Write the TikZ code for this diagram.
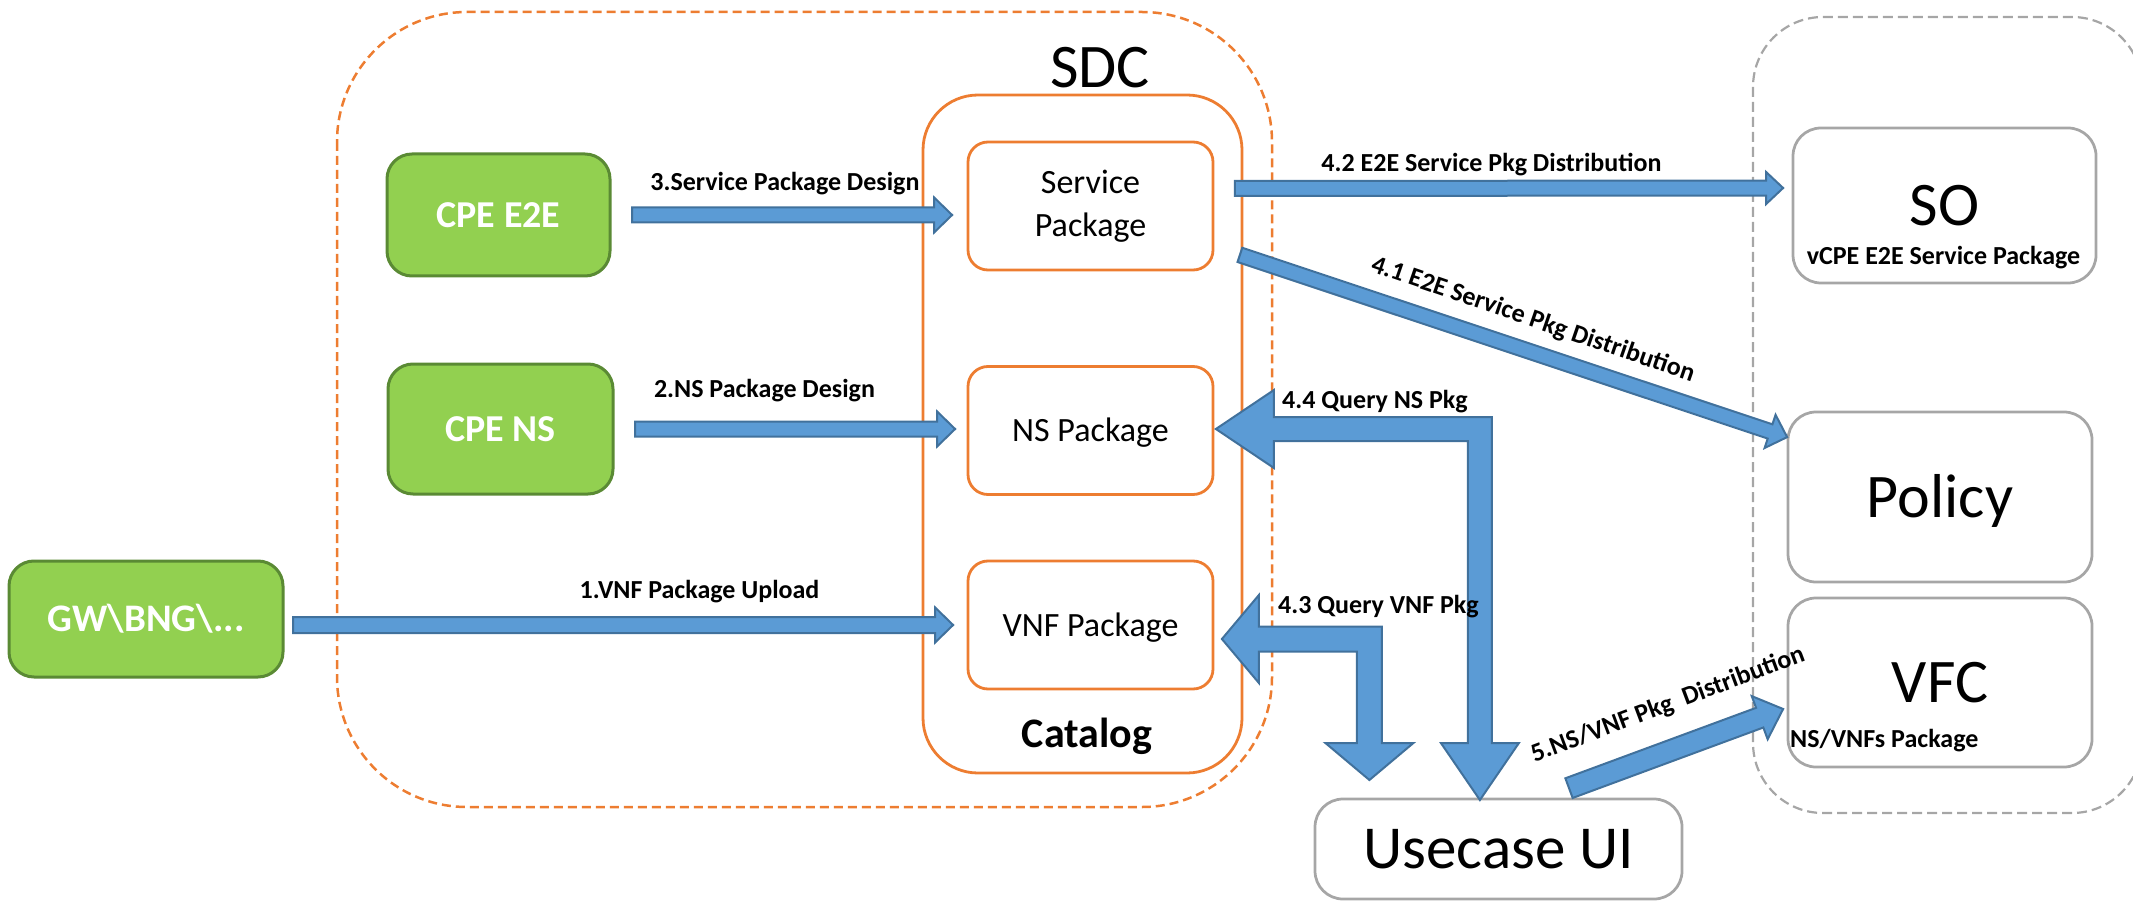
\documentclass[tikz,border=0pt]{standalone}
\usepackage{fontspec}
\setmainfont{Carlito}
\usetikzlibrary{calc}

\definecolor{sdcorange}{HTML}{ED7D31}
\definecolor{leaf}{HTML}{92D050}
\definecolor{leafedge}{HTML}{5A8A34}
\definecolor{flowfill}{HTML}{5B9BD5}
\definecolor{flowedge}{HTML}{41719C}
\definecolor{greyedge}{HTML}{A6A6A6}

\newcommand\fsz[2]{\fontsize{#1}{#2}\selectfont}

% straight block arrow: from, to, shaft half-width, head half-width, head length
\newcommand\blockarrow[5]{%
  \coordinate (ba-s) at (#1);
  \coordinate (ba-e) at (#2);
  \coordinate (ba-b) at ($(ba-e)!#5!(ba-s)$);
  \draw[flow] ($(ba-s)!#3!90:(ba-e)$) -- ($(ba-b)!#3!90:(ba-e)$)
    -- ($(ba-b)!#4!90:(ba-e)$) -- (ba-e) -- ($(ba-b)!#4!-90:(ba-e)$)
    -- ($(ba-b)!#3!-90:(ba-e)$) -- ($(ba-s)!#3!-90:(ba-e)$) -- cycle;
}

\tikzset{
  flow/.style={fill=flowfill, draw=flowedge, line width=2pt, line join=miter},
  onerow/.style={text height=#1, text depth=0pt},
  pkgbox/.style={draw=sdcorange, line width=2.8pt, rounded corners=20pt,
    minimum width=245pt, minimum height=128pt, inner sep=0pt, align=center,
    font=\fsz{34}{43}},
  srcbox/.style={draw=leafedge, fill=leaf, line width=3pt, rounded corners=25pt,
    inner sep=0pt, text=white, font=\bfseries\fsz{38}{44}, onerow=24.5pt},
  sysbox/.style={draw=greyedge, line width=2.75pt, rounded corners=28pt,
    inner sep=0pt, font=\fsz{62}{70}, onerow=40pt},
  steplabel/.style={font=\bfseries\fsz{26}{30}, inner sep=0pt},
  sublabel/.style={font=\bfseries\fsz{26}{30}, inner sep=0pt},
}

\begin{document}
\begin{tikzpicture}[x=1pt,y=-1pt]
\useasboundingbox (0,0) rectangle (2133,901);
\clip (0,0) rectangle (2133,901);

% containers
\draw[sdcorange, line width=2.5pt, dash pattern=on 9pt off 5pt, rounded corners=130pt]
  (337,12) rectangle (1272,807);
\draw[greyedge, line width=2.2pt, dash pattern=on 10pt off 5pt, rounded corners=70pt]
  (1753,17) rectangle (2142,813);

\node[font=\fsz{62}{70}, anchor=base, inner sep=0pt] (sdctitle) at (1100,88) {SDC};

\node[draw=sdcorange, line width=2.8pt, rounded corners=55pt, minimum width=319pt,
  minimum height=678pt, inner sep=0pt] (catalog) at (1082.5,434) {};
\node[font=\bfseries\fsz{42}{48}, anchor=base, inner sep=0pt] (cattitle) at (1087,747) {Catalog};

% catalog entries
\node[pkgbox] (svcpkg) at (1090.5,206) {Service\\Package};
\node[pkgbox, onerow=22pt] (nspkg) at (1090.5,430.5) {NS Package};
\node[pkgbox, onerow=22pt] (vnfpkg) at (1090.5,625) {VNF Package};

% design sources
\node[srcbox, minimum width=223pt, minimum height=122pt] (cpee2e) at (498.5,215) {CPE E2E};
\node[srcbox, minimum width=225pt, minimum height=130pt] (cpens) at (500.5,429) {CPE NS};
\node[srcbox, minimum width=274pt, minimum height=116pt, font=\bfseries\fsz{39}{44}] (gw) at (146,619) {GW\textbackslash BNG\textbackslash ...};

% consumers
\node[sysbox, minimum width=303pt, minimum height=155pt] (so) at (1944.5,205.5) {SO};
\node[sublabel, anchor=base] (sosub) at (1943.5,265) {vCPE E2E Service Package};
\node[sysbox, minimum width=304pt, minimum height=170pt] (policy) at (1940,497) {Policy};
\node[sysbox, minimum width=304pt, minimum height=169pt] (vfc) at (1940,682.5) {VFC};
\node[sublabel, anchor=base west] (vfcsub) at (1790,747) {NS/VNFs Package};
\node[sysbox, minimum width=367pt, minimum height=100pt, font=\fsz{61}{70}, onerow=39pt] (usecase) at (1498.5,849) {Usecase UI};

% design and upload flows
\coordinate (t3) at (cpee2e.east -| svcpkg.west);
\blockarrow{[xshift=20.5pt]cpee2e.east}{[xshift=-14.5pt]t3}{7.5pt}{17.5pt}{18pt}
\coordinate (t2) at (cpens.east -| nspkg.west);
\blockarrow{[xshift=20.5pt]cpens.east}{[xshift=-11.5pt]t2}{7.5pt}{17.5pt}{18pt}
\coordinate (s1) at (vnfpkg.west -| gw.east);
\blockarrow{[xshift=8.5pt]s1}{[xshift=-13.5pt]vnfpkg.west}{8pt}{17.5pt}{18pt}

% distribution flows
\blockarrow{[xshift=20.5pt,yshift=17.5pt]svcpkg.east}{[xshift=-8.5pt,yshift=17.5pt]so.west}{7.5pt}{16pt}{17pt}
\blockarrow{[xshift=25.5pt,yshift=16.5pt]svcpkg.south east}{[xshift=0.5pt,yshift=-26.5pt]policy.north west}{7.5pt}{17.5pt}{18pt}
\blockarrow{[xshift=70.5pt,yshift=9.5pt]usecase.north}{[xshift=-3.5pt,yshift=-26.5pt]vfc.west}{10.5pt}{23pt}{25pt}

% query flows between Usecase UI and the catalog
\draw[flow] ([xshift=1.5pt,yshift=1.5pt]nspkg.east) coordinate (q44)
  -- ++(58,-39) -- ++(0,27) -- ++(218,0) -- ++(0,326) -- ++(27,0)
  -- ++(-39,57) -- ++(-39,-57) -- ++(27,0) -- ++(0,-302) -- ++(-194,0)
  -- ++(0,27) -- cycle;
\draw[flow] ([xshift=7.5pt,yshift=-14pt]vnfpkg.east) coordinate (q43)
  -- ++(37,-44) -- ++(0,31.5) -- ++(123,0) -- ++(0,116.5) -- ++(31.5,0)
  -- ++(-44,37) -- ++(-44,-37) -- ++(31.5,0) -- ++(0,-91.5) -- ++(-98,0)
  -- ++(0,31.5) -- cycle;

% flow labels
\node[steplabel, anchor=base] (l3) at (785,191) {3.Service Package Design};
\node[steplabel, anchor=base] (l2) at (764.5,397) {2.NS Package Design};
\node[steplabel, anchor=base] (l1) at (699.5,598) {1.VNF Package Upload};
\node[steplabel, anchor=base] (l42) at (1491.5,172) {4.2 E2E Service Pkg Distribution};
\node[steplabel, anchor=base west] (l44) at (1282,408) {4.4 Query NS Pkg};
\node[steplabel, anchor=base west] (l43) at (1278,613) {4.3 Query VNF Pkg};
\node[steplabel, rotate=-19] (l41) at (1533,320) {4.1 E2E Service Pkg Distribution};
\node[steplabel, rotate=20.5] (l5) at (1668,705) {5.NS/VNF Pkg\ \ Distribution};
\end{tikzpicture}
\end{document}
